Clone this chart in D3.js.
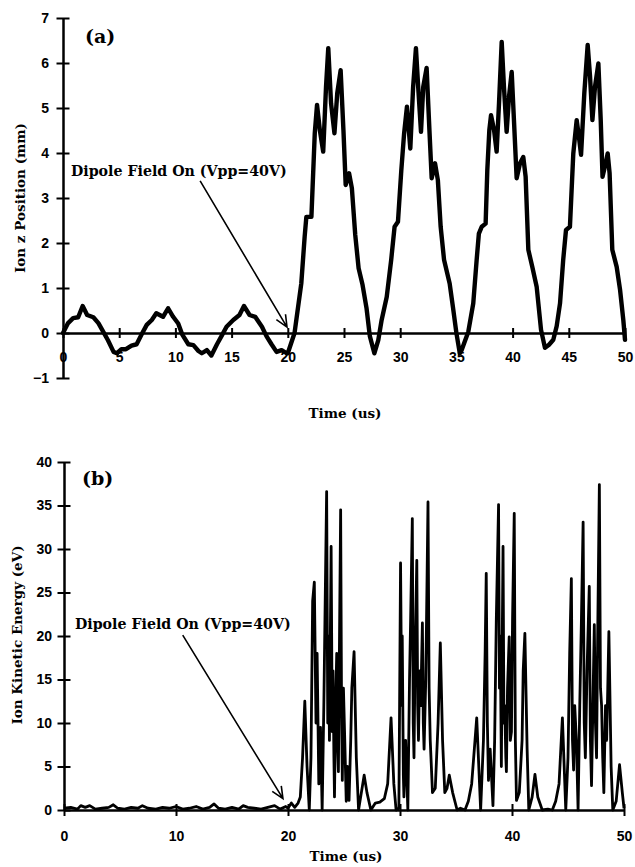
<!DOCTYPE html>
<html>
<head>
<meta charset="utf-8">
<script src="https://cdn.jsdelivr.net/npm/d3@7"></script>
<style>
  html, body { margin: 0; padding: 0; background: #fff; }
  svg { display: block; }
  .tick text { font-family: "Liberation Sans", Arial, sans-serif; font-weight: bold; font-size: 14px; fill: #000; }
  .serif { font-family: "DejaVu Serif", "Liberation Serif", serif; font-weight: bold; fill: #000; }
</style>
</head>
<body>
<svg id="chart" width="635" height="867"></svg>
<script>
// ---- (a) ion axial position after the dipole field is switched on ----
const posTime = [
  0, 0.45, 0.9, 1.35, 1.75, 2.15, 2.7, 3.15, 3.6, 4.0, 4.5, 4.8, 5.2, 5.6, 6.1, 6.55,
  7.0, 7.45, 7.9, 8.3, 8.9, 9.35, 9.8, 10.25, 10.6, 11.15, 11.6, 12.05, 12.35, 12.8,
  13.2, 13.7, 14.1, 14.55, 15.15, 15.7, 16.1, 16.6, 17.1, 17.7, 18.1, 18.55, 19.0,
  19.45, 19.9,
  20.0, 20.6, 21.2, 21.5, 21.65, 22.1, 22.4, 22.6, 22.85, 23.15, 23.4, 23.6, 23.85,
  24.15, 24.4, 24.7, 24.95, 25.15, 25.45, 25.7, 26.0, 26.3, 26.65, 27.0, 27.3, 27.7,
  28.05, 28.35, 28.8, 29.2, 29.5, 29.8, 30.1, 30.35, 30.6, 30.9, 31.15, 31.4, 31.6,
  31.85, 32.05, 32.35, 32.6, 32.8, 33.1, 33.35, 33.6, 33.9, 34.4, 34.7, 35.0, 35.3,
  35.47, 36.06, 36.5, 36.8, 37.0, 37.25, 37.6, 37.75, 37.93, 38.08, 38.35, 38.58,
  38.79, 39.03, 39.23, 39.47, 39.68, 39.92, 40.12, 40.36, 40.66, 40.95, 41.16, 41.4,
  41.75, 42.14, 42.53, 42.88, 43.24, 43.62, 43.92, 44.22, 44.5, 44.75, 45.1, 45.4,
  45.7, 45.9, 46.09, 46.38, 46.68, 46.89, 47.1, 47.33, 47.63, 47.84, 48.0, 48.28,
  48.46, 48.63, 48.87, 49.26, 49.56, 49.85, 50.0
];
const posZ = [
  0, 0.22, 0.33, 0.35, 0.6, 0.4, 0.35, 0.22, 0.02, -0.16, -0.42, -0.45, -0.36, -0.36,
  -0.28, -0.25, -0.03, 0.18, 0.29, 0.44, 0.36, 0.55, 0.36, 0.21, -0.03, -0.25, -0.27,
  -0.4, -0.45, -0.38, -0.5, -0.25, -0.07, 0.14, 0.29, 0.4, 0.6, 0.4, 0.36, 0.14, -0.07,
  -0.25, -0.42, -0.38, -0.45,
  -0.45, 0.0, 1.1, 2.14, 2.58, 2.58, 4.44, 5.07, 4.51, 4.03, 5.47, 6.33, 5.1,
  4.44, 5.33, 5.84, 4.51, 3.29, 3.55, 3.22, 2.18, 1.44, 1.07, 0.56, -0.07, -0.45,
  -0.16, 0.29, 0.8, 1.63, 2.36, 2.47, 3.62, 4.44, 5.03, 4.1, 5.47, 6.33, 5.47,
  4.47, 5.47, 5.89, 4.51, 3.44, 3.77, 3.4, 2.36, 1.63, 1.1, 0.56, 0.0, -0.45,
  -0.38, 0.03, 0.66, 1.62, 2.21, 2.36, 2.43, 3.62, 4.51, 4.84, 4.51, 4.03,
  5.1, 6.47, 5.47, 4.47, 5.25, 5.8, 4.73, 3.44, 3.77, 3.91, 3.47, 1.85,
  1.47, 1.03, 0.07, -0.33, -0.26, -0.15, 0.15, 0.66, 1.62, 2.29, 2.36, 3.99,
  4.73, 4.36, 3.96, 5.33, 6.4, 5.7, 4.73, 5.47, 5.99, 4.73, 3.47, 3.77,
  3.99, 3.55, 1.85, 1.47, 0.96, 0.29, -0.15
];
const posXTicks = [0, 5, 10, 15, 20, 25, 30, 35, 40, 45, 50];
const posYTicks = [-1, 0, 1, 2, 3, 4, 5, 6, 7];

// ---- (b) ion kinetic energy ----
const keTime = [
  0, 0.6, 1.2, 1.5, 1.9, 2.3, 2.8, 3.4, 4.0, 4.4, 4.8, 5.4, 6.0, 6.6, 7.0, 7.5, 8.2,
  8.8, 9.4, 10.0, 10.6, 11.2, 11.8, 12.4, 13.0, 13.4, 13.8, 14.4, 15.0, 15.6, 16.0,
  16.4, 17.0, 17.6, 18.2, 18.8, 19.3, 19.8,
  // first burst
  20.0, 20.3, 20.6, 20.9, 21.1, 21.3, 21.5, 21.7, 21.9, 22.05, 22.2, 22.35, 22.5,
  22.6, 22.75, 22.9, 23.05, 23.2, 23.3, 23.45, 23.55, 23.62, 23.7, 23.85, 23.95,
  24.02, 24.1, 24.15, 24.25, 24.35, 24.42, 24.5, 24.6, 24.7, 24.78, 24.85, 24.95,
  25.05, 25.2, 25.3, 25.45, 25.6, 25.7, 25.9, 26.1, 26.3, 26.55, 26.8, 27.05, 27.4,
  27.8, 28.2, 28.6, 28.9, 29.2, 29.45, 29.65, 29.9,
  // second burst
  30.05, 30.15, 30.2, 30.3, 30.35, 30.5, 30.7, 30.85, 30.95, 31.1, 31.18, 31.25,
  31.35, 31.5, 31.58, 31.65, 31.75, 31.85, 32.0, 32.08, 32.15, 32.3, 32.4, 32.5,
  32.6, 32.7, 32.9, 33.15, 33.4, 33.6, 33.8, 34.0, 34.2, 34.4, 34.7, 35.1, 35.4,
  35.8, 36.1, 36.4, 36.85, 37.2,
  // third burst
  37.45, 37.6, 37.7, 37.8, 37.9, 38.05, 38.3, 38.45, 38.6, 38.8, 38.88, 38.95, 39.05,
  39.12, 39.2, 39.28, 39.35, 39.45, 39.5, 39.6, 39.75, 39.85, 39.95, 40.05, 40.2,
  40.3, 40.4, 40.65, 40.9, 41.0, 41.15, 41.35, 41.5, 41.8, 42.05, 42.3, 42.7, 43.2,
  43.6, 43.9, 44.2, 44.5, 44.8,
  // fourth burst
  45.0, 45.15, 45.3, 45.4, 45.5, 45.6, 45.75, 45.9, 46.05, 46.2, 46.35, 46.45, 46.55,
  46.7, 46.9, 47.0, 47.1, 47.25, 47.35, 47.45, 47.55, 47.65, 47.8, 47.9, 48.0, 48.1,
  48.2, 48.35, 48.45, 48.55, 48.65, 48.85, 49.0, 49.3, 49.6, 49.85, 50.0
];
const keEnergy = [
  0.2, 0.3, 0.1, 0.5, 0.3, 0.5, 0.1, 0.2, 0.3, 0.6, 0.2, 0.1, 0.3, 0.2, 0.5, 0.2, 0.1,
  0.3, 0.2, 0.4, 0.1, 0.2, 0.4, 0.1, 0.3, 0.7, 0.2, 0.1, 0.3, 0.1, 0.5, 0.3, 0.2, 0.1,
  0.3, 0.5, 0.1, 0.4,
  0.2, 0.8, 0.3, 0.8, 1.5, 6, 12.5, 5, 0, 6, 24, 26.2, 10,
  18, 3, 9.5, 0, 12, 22, 36.6, 10, 20, 8, 30.3, 9,
  16, 6, 1.5, 12, 18, 8, 4.4, 20, 34.5, 12, 3.4, 14,
  9, 1.0, 5, 1.1, 8, 14, 18.2, 6, 0, 2, 4.0, 2, 0,
  0.8, 0.9, 1.3, 3, 10.6, 3, 0, 0.2,
  28.4, 12, 20, 4, 1.5, 8, 0, 15, 22, 33.5, 10, 6,
  18, 28.7, 12, 8, 16, 12, 21.5, 10, 7, 15, 25, 35.4,
  14, 8, 2, 2.5, 10, 19.2, 8, 2, 2.5, 4.0, 2, 0, 0.2,
  0, 1, 3, 10.6, 0,
  8, 18, 27.2, 10, 3.4, 7, 0.5, 8, 22, 35.1, 14, 20, 5,
  18, 30.3, 10, 12, 6, 4.4, 14, 19.9, 8, 9, 22, 34.1,
  8, 1.1, 2, 8, 16, 20.3, 7, 0, 1.5, 4.1, 1.5, 0, 0.1,
  0, 1, 3, 10.6, 0,
  6, 18, 26.6, 8, 4.6, 12, 8, 0, 12, 22, 33.1, 10, 6,
  16, 25.7, 8, 2.8, 14, 21.3, 10, 6, 20, 37.4, 14, 12, 6,
  2, 12, 8, 14, 20.5, 5, 0, 1, 5.2, 2, 0.2
];
const keXTicks = [0, 10, 20, 30, 40, 50];
const keYTicks = [0, 5, 10, 15, 20, 25, 30, 35, 40];

const annotation = "Dipole Field On (Vpp=40V)";

const svg = d3.select("#chart");

// scales
const xA = d3.scaleLinear().domain([0, 50]).range([63, 625]);
const yA = d3.scaleLinear().domain([-1, 7]).range([378, 18]);
const xB = d3.scaleLinear().domain([0, 50]).range([64, 624]);
const yB = d3.scaleLinear().domain([0, 40]).range([810, 462]);

// ticks drawn straight through the axis line
function crossTicks(g, horizontal, half) {
  g.selectAll(".tick line")
    .attr("stroke", "#000").attr("stroke-width", 2)
    .each(function () {
      const l = d3.select(this);
      if (horizontal) l.attr("x1", -half).attr("x2", half);
      else l.attr("y1", -half).attr("y2", half);
    });
  g.select(".domain").attr("stroke", "#000").attr("stroke-width", 2.5);
}

// ---------- panel (a) ----------
const gA = svg.append("g");
const axAy = gA.append("g").attr("transform", `translate(${xA(0)},0)`)
  .call(d3.axisLeft(yA).tickValues(posYTicks).tickSizeInner(6).tickSizeOuter(0).tickPadding(8).tickFormat(d3.format("d")));
crossTicks(axAy, true, 6.5);

const axAx = gA.append("g").attr("transform", `translate(0,${yA(0)})`)
  .call(d3.axisBottom(xA).tickValues(posXTicks).tickSizeInner(5).tickSizeOuter(0).tickPadding(14).tickFormat(d3.format("d")));
crossTicks(axAx, false, 5);

gA.append("path")
  .datum(posTime.map((t, i) => [t, posZ[i]]))
  .attr("fill", "none").attr("stroke", "#000").attr("stroke-width", 4.4)
  .attr("stroke-linejoin", "round").attr("stroke-linecap", "round")
  .attr("d", d3.line().x(d => xA(d[0])).y(d => yA(d[1])));

gA.append("text").attr("class", "serif").attr("x", 85).attr("y", 43)
  .attr("font-size", 19).text("(a)");
gA.append("text").attr("class", "serif").attr("x", 71).attr("y", 176)
  .attr("font-size", 14.2).text(annotation);
gA.append("text").attr("class", "serif").attr("font-size", 13.5)
  .attr("text-anchor", "middle")
  .attr("transform", `translate(25,198) rotate(-90)`).text("Ion z Position (mm)");
gA.append("text").attr("class", "serif").attr("font-size", 13.5)
  .attr("text-anchor", "middle").attr("x", 345).attr("y", 418).text("Time (us)");

// ---------- panel (b) ----------
const gB = svg.append("g");
const axBy = gB.append("g").attr("transform", `translate(${xB(0)},0)`)
  .call(d3.axisLeft(yB).tickValues(keYTicks).tickSizeInner(6).tickSizeOuter(0).tickPadding(6).tickFormat(d3.format("d")));
crossTicks(axBy, true, 6.5);

const axBx = gB.append("g").attr("transform", `translate(0,${yB(0)})`)
  .call(d3.axisBottom(xB).tickValues(keXTicks).tickSizeInner(7).tickSizeOuter(0).tickPadding(14).tickFormat(d3.format("d")));
crossTicks(axBx, false, 6);

gB.append("path")
  .datum(keTime.map((t, i) => [t, keEnergy[i]]))
  .attr("fill", "none").attr("stroke", "#000").attr("stroke-width", 2.8)
  .attr("stroke-linejoin", "round")
  .attr("d", d3.line().x(d => xB(d[0])).y(d => yB(d[1])));

gB.append("text").attr("class", "serif").attr("x", 82).attr("y", 485)
  .attr("font-size", 19).text("(b)");
gB.append("text").attr("class", "serif").attr("x", 75).attr("y", 629)
  .attr("font-size", 14.2).text(annotation);
gB.append("text").attr("class", "serif").attr("font-size", 13.5)
  .attr("text-anchor", "middle")
  .attr("transform", `translate(22,635) rotate(-90)`).text("Ion Kinetic Energy (eV)");
gB.append("text").attr("class", "serif").attr("font-size", 13.5)
  .attr("text-anchor", "middle").attr("x", 346).attr("y", 861).text("Time (us)");

// annotation arrows with open heads
function arrow(g, x0, y0, x1, y1) {
  const a = Math.atan2(y1 - y0, x1 - x0), len = 13, spread = 0.42;
  const p = d3.path();
  p.moveTo(x0, y0); p.lineTo(x1, y1);
  p.moveTo(x1 - len * Math.cos(a - spread), y1 - len * Math.sin(a - spread));
  p.lineTo(x1, y1);
  p.lineTo(x1 - len * Math.cos(a + spread), y1 - len * Math.sin(a + spread));
  g.append("path").attr("d", p.toString()).attr("fill", "none")
    .attr("stroke", "#000").attr("stroke-width", 1.6);
}
arrow(gA, xA(12.2), yA(3.38), xA(19.93), yA(0.13));
arrow(gB, xB(10.6), yB(20.1), xB(19.55), yB(1.3));
</script>
</body>
</html>
